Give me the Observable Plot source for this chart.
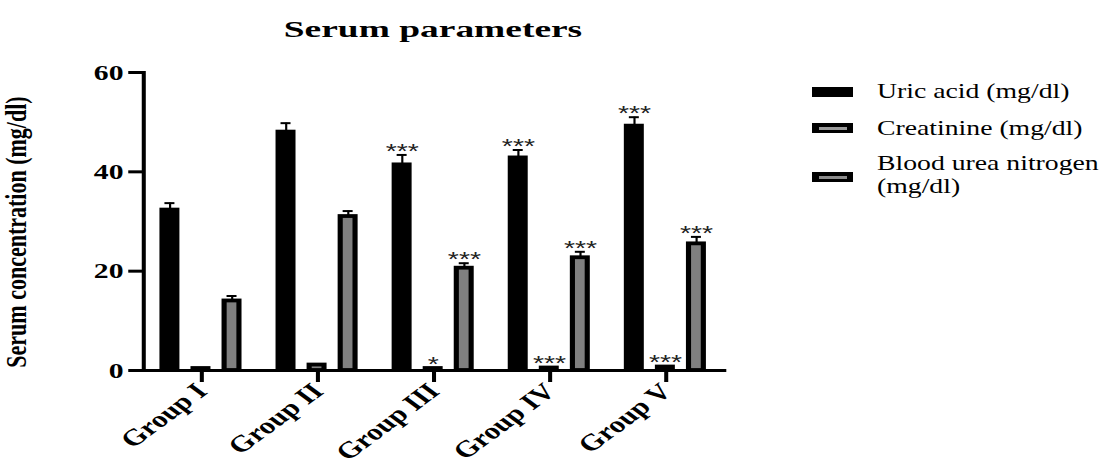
<!DOCTYPE html>
<html><head><meta charset="utf-8">
<script src="https://cdn.jsdelivr.net/npm/d3@7"></script>
<script src="https://cdn.jsdelivr.net/npm/@observablehq/plot@0.6"></script>
<style>
html,body{margin:0;padding:0;background:#fff;width:1107px;height:464px;overflow:hidden;position:relative;font-family:"Liberation Serif","Times New Roman",serif;color:#000;}
#title{position:absolute;left:432.5px;top:17px;font-weight:bold;font-size:24px;line-height:24px;white-space:nowrap;transform:translateX(-50%) scaleX(1.56);}
#ylabel{position:absolute;left:17px;top:232px;font-weight:bold;font-size:22px;line-height:22px;white-space:nowrap;transform:translate(-50%,-50%) rotate(-90deg) scaleY(1.35);}
#chart{position:absolute;left:0;top:50px;}
#chart svg{transform:scaleX(1.35);transform-origin:0 0;overflow:visible;}
.sw{position:absolute;left:812px;width:41px;height:10px;background:#000;}
.sw .in{position:absolute;left:6.5px;top:3.5px;width:28px;height:3px;}
.lt{position:absolute;left:877px;font-size:22px;line-height:23px;white-space:nowrap;transform:scaleX(1.26);transform-origin:0 0;}
</style></head>
<body>
<div id="title">Serum parameters</div>
<div id="ylabel">Serum concentration (mg/dl)</div>
<div id="chart"></div>
<div id="legend"></div>
<script>
const groups = ["Group I", "Group II", "Group III", "Group IV", "Group V"];
const series = ["Uric acid (mg/dl)", "Creatinine (mg/dl)", "Blood urea nitrogen (mg/dl)"];
const legendLines = [["Uric acid (mg/dl)"], ["Creatinine (mg/dl)"], ["Blood urea nitrogen", "(mg/dl)"]];
const uricAcid = [32.3, 48.0, 41.4, 42.8, 49.2];
const uricAcidSem = [1.4, 1.8, 2.0, 1.6, 1.8];
const creatinine = [0.4, 1.1, 0.4, 0.5, 0.7];
const creatinineSem = [0.1, 0.2, 0.1, 0.1, 0.15];
const bloodUreaNitrogen = [14.0, 31.0, 20.6, 22.7, 25.5];
const bloodUreaNitrogenSem = [1.0, 1.1, 1.0, 1.2, 1.4];
const uricAcidStars = ["", "", "***", "***", "***"];
const creatinineStars = ["", "", "*", "***", "***"];
const bloodUreaNitrogenStars = ["", "", "***", "***", "***"];
const yTicks = [0, 20, 40, 60];
const fills = ["#000000", "#808080", "#808080"];
const swatchInner = ["#000000", "#9a9a9a", "#8c8c8c"];

const valuesBySeries = [uricAcid, creatinine, bloodUreaNitrogen];
const semBySeries = [uricAcidSem, creatinineSem, bloodUreaNitrogenSem];
const starsBySeries = [uricAcidStars, creatinineStars, bloodUreaNitrogenStars];
const data = [];
groups.forEach((g, gi) => series.forEach((s, si) => data.push({
  group: g, series: s, value: valuesBySeries[si][gi], sem: semBySeries[si][gi], stars: starsBySeries[si][gi]
})));
const errTop = d => d.value + d.sem;

const chart = Plot.plot({
  width: 560, height: 414,
  marginLeft: 104, marginRight: 22.5, marginTop: 22, marginBottom: 94,
  style: {fontFamily: "'Liberation Serif','Times New Roman',serif", fontSize: "22px", fontWeight: "bold", color: "#000", background: "transparent"},
  fx: {domain: groups, paddingInner: 0, paddingOuter: 0, label: null},
  x: {domain: series, paddingInner: 0.506, paddingOuter: 0.578, axis: null},
  y: {domain: [0, 60], axis: null},
  color: {domain: series, range: fills},
  marks: [
    Plot.barY(data, {fx: "group", x: "series", y: "value", fill: "series", stroke: "#000", strokeWidth: 3.8}),
    Plot.ruleX(data, {fx: "group", x: "series", y1: "value", y2: errTop, stroke: "#000", strokeWidth: 1.6}),
    Plot.tickY(data, {fx: "group", x: "series", y: errTop, stroke: "#000", strokeWidth: 2, insetLeft: 1.8, insetRight: 1.8}),
    Plot.text(data.filter(d => d.stars), {fx: "group", x: "series", y: errTop, text: "stars", dy: -4,
      fontFamily: "'Liberation Sans',Arial,sans-serif", fontSize: 21, fontWeight: "normal", fill: "#222", letterSpacing: 1}),
    Plot.frame({anchor: "bottom", stroke: "#000", strokeWidth: 3, facet: "super"}),
    Plot.frame({anchor: "left", stroke: "#000", strokeWidth: 3, facet: "super"}),
    Plot.axisY({ticks: yTicks, tickSize: 11, tickPadding: 4, strokeWidth: 3, fontSize: 22, fontWeight: "bold", label: null}),
    Plot.axisFx({anchor: "bottom", tickSize: 12, tickPadding: 5, strokeWidth: 3, tickRotate: -45, fontSize: 23, fontWeight: "bold", label: null})
  ]
});
document.getElementById("chart").appendChild(chart);

// legend
const swTops = [87, 123, 172];
const textTops = [79.4, 116.4, 151.4];
const legend = d3.select("#legend");
series.forEach((s, i) => {
  const sw = legend.append("div").attr("class", "sw").style("top", swTops[i] + "px");
  if (i > 0) sw.append("div").attr("class", "in").style("background", swatchInner[i]);
  legend.append("div").attr("class", "lt").style("top", textTops[i] + "px").html(legendLines[i].join("<br>"));
});
</script>
</body></html>
